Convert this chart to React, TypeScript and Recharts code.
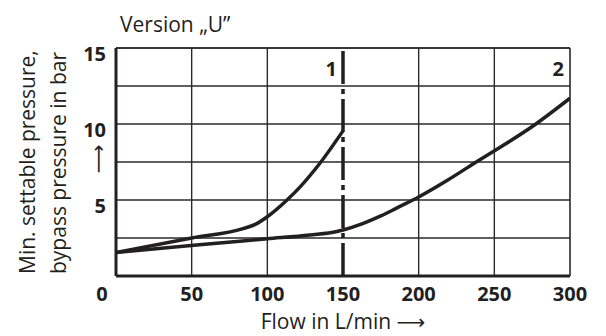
import React from 'react';
import { LineChart, Line, XAxis, YAxis, CartesianGrid, ReferenceLine, Label } from 'recharts';

// ---- data ----
const flowTicks = [0, 50, 100, 150, 200, 250, 300];
const pressureTicks = [0, 2.5, 5, 7.5, 10, 12.5, 15];
const pressureLabelTicks = [5, 10, 15];
const gridFlows = [50, 100, 200, 250];

const curve1Flow = [0, 50, 84, 92, 100, 113, 122, 135, 150];
const curve1Pressure = [1.55, 2.5, 3.12, 3.4, 3.9, 5.0, 5.9, 7.45, 9.55];

const curve2Flow = [0, 55, 100, 128, 146, 150, 163, 175, 186, 200, 219, 238, 276, 300];
const curve2Pressure = [1.55, 2.05, 2.45, 2.7, 2.93, 3.03, 3.45, 3.95, 4.5, 5.2, 6.3, 7.5, 9.9, 11.7];

const limitFlow = 150;
const curveNames = ['1', '2'];
const title = 'Version \u201EU\u201D';
const xTitle = 'Flow in L/min';
const yTitle1 = 'Min. settable pressure,';
const yTitle2 = 'bypass pressure in bar';
const ARROW = '\u27F6';

const curve1 = curve1Flow.map((q, i) => ({ q, p: curve1Pressure[i] }));
const curve2 = curve2Flow.map((q, i) => ({ q, p: curve2Pressure[i] }));

// ---- styles ----
const FONT = '"Open Sans", "Liberation Sans", sans-serif';
const ARROW_FONT = '"DejaVu Sans", sans-serif';
const INK = '#231f20';
const GRID = '#2a2a2a';
const TITLE_SIZE = 21;

const XTick = (props: any) => {
  const { x, y, payload } = props;
  const dx = payload.value === 0 ? -14 : 0;
  return (
    <text x={x + dx} y={y + 25} textAnchor="middle" fontFamily={FONT} fontWeight={700} fontSize={20} fill={INK}>
      {payload.value}
    </text>
  );
};

const YTick = (props: any) => {
  const { x, y, payload } = props;
  if (!pressureLabelTicks.includes(payload.value)) return <g />;
  return (
    <text x={x - 10} y={y + 13} textAnchor="end" fontFamily={FONT} fontWeight={700} fontSize={20} fill={INK}>
      {payload.value}
    </text>
  );
};

const XTitle = (props: any) => {
  const vb = props.viewBox;
  const cx = vb.x + vb.width / 2;
  const by = vb.y + 53;
  return (
    <text x={cx} y={by} textAnchor="middle" fontFamily={FONT} fontSize={TITLE_SIZE} fill={INK}>
      {xTitle}{' '}
      <tspan fontFamily={ARROW_FONT} fontSize={20}>{ARROW}</tspan>
    </text>
  );
};

const YTitle = (props: any) => {
  const vb = props.viewBox;
  const bottom = vb.y + vb.height - 2;
  const l1 = 35;
  const l2 = 66;
  const ax = 98;
  const ay = vb.y + 111;
  return (
    <g fontFamily={FONT} fontSize={TITLE_SIZE} fill={INK}>
      <text x={l1} y={bottom} transform={`rotate(-90 ${l1} ${bottom})`} textAnchor="start">{yTitle1}</text>
      <text x={l2} y={bottom} transform={`rotate(-90 ${l2} ${bottom})`} textAnchor="start">{yTitle2}</text>
      <text x={ax} y={ay} transform={`rotate(-90 ${ax} ${ay})`} textAnchor="middle" dominantBaseline="central" fontFamily={ARROW_FONT} fontSize={20}>{ARROW}</text>
    </g>
  );
};

const TopTitle = (props: any) => {
  const vb = props.viewBox;
  return (
    <text x={vb.x + 4} y={vb.y - 16} fontFamily={FONT} fontSize={TITLE_SIZE} fill={INK}>
      {title}
    </text>
  );
};

const CurveName = (name: string) => (props: any) => {
  const vb = props.viewBox;
  return (
    <text x={vb.x - 6} y={vb.y + 28} textAnchor="end" fontFamily={FONT} fontWeight={700} fontSize={20} fill={INK}>
      {name}
    </text>
  );
};

export default function App() {
  return (
    <div style={{ position: 'absolute', left: 0, top: 0, width: 606, height: 336, background: '#fff' }}>
      <LineChart width={606} height={336} margin={{ top: 48, right: 36, bottom: 0, left: 0 }}>
        <CartesianGrid horizontal vertical={false} stroke={GRID} strokeWidth={1.4} />
        <XAxis
          type="number"
          dataKey="q"
          domain={[0, 300]}
          ticks={flowTicks}
          interval={0}
          height={60}
          tickSize={0}
          tickMargin={0}
          tickLine={false}
          axisLine={{ stroke: INK, strokeWidth: 3 }}
          tick={<XTick />}
          allowDataOverflow
        >
          <Label content={XTitle} />
        </XAxis>
        <YAxis
          type="number"
          dataKey="p"
          domain={[0, 15]}
          ticks={pressureTicks}
          interval={0}
          width={116}
          tickSize={0}
          tickMargin={0}
          tickLine={false}
          axisLine={{ stroke: INK, strokeWidth: 3 }}
          tick={<YTick />}
          allowDataOverflow
        >
          <Label content={YTitle} />
        </YAxis>
        {gridFlows.map((v) => (
          <ReferenceLine key={v} x={v} stroke={GRID} strokeWidth={1.4} />
        ))}
        <ReferenceLine y={15} stroke={GRID} strokeWidth={1.4} label={<TopTitle />} />
        <ReferenceLine x={300} stroke={GRID} strokeWidth={1.6} label={CurveName(curveNames[1])} />
        <ReferenceLine x={limitFlow} stroke={INK} strokeWidth={3.5} strokeDasharray="33 5 5 5" label={CurveName(curveNames[0])} />
        <Line data={curve1} dataKey="p" type="monotone" stroke={INK} strokeWidth={3.5} dot={false} isAnimationActive={false} />
        <Line data={curve2} dataKey="p" type="monotone" stroke={INK} strokeWidth={3.5} dot={false} isAnimationActive={false} />
      </LineChart>
    </div>
  );
}
